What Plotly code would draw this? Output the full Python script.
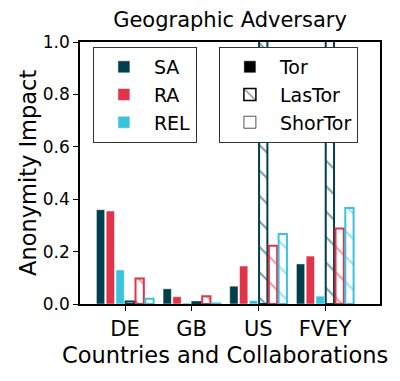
import plotly.graph_objects as go

# values
countries = ["DE", "GB", "US", "FVEY"]
metrics = ["SA", "RA", "REL"]
tor = {
    "SA": [0.36, 0.058, 0.068, 0.153],
    "RA": [0.355, 0.028, 0.145, 0.183],
    "REL": [0.13, 0.004, 0.013, 0.03],
}
lastor = {
    "SA": [0.01, 0.007, 1.5, 1.5],
    "RA": [0.097, 0.03, 0.222, 0.288],
    "REL": [0.02, 0.002, 0.267, 0.366],
}
colors = {"SA": "#023f4c", "RA": "#e0344a", "REL": "#3bc2dd"}

FAMILY = "DejaVu Sans"
def font(size):
    return dict(family=FAMILY, size=size, color="black")

x = list(range(len(countries)))

fig = go.Figure()

# Tor bars (solid) - also used for the metric legend
for i, m in enumerate(metrics):
    fig.add_trace(go.Bar(
        x=x, y=tor[m], name=m, legend="legend",
        offsetgroup=f"t{i}",
        marker=dict(color=colors[m], line=dict(color="white", width=0.5)),
    ))

# LasTor bars (hatched, white fill)
for i, m in enumerate(metrics):
    fig.add_trace(go.Bar(
        x=x, y=lastor[m], name=m, showlegend=False,
        offsetgroup=f"l{i}",
        marker=dict(
            color="white",
            line=dict(color=colors[m], width=2),
            pattern=dict(shape="\\", fgcolor=colors[m], bgcolor="white",
                         size=18, solidity=0.12),
        ),
    ))

# style legend entries
fig.add_trace(go.Bar(x=[None], y=[None], name="Tor", legend="legend2",
                     offsetgroup="t0", marker=dict(color="black")))
fig.add_trace(go.Bar(x=[None], y=[None], name="LasTor", legend="legend2",
                     offsetgroup="t0",
                     marker=dict(color="white", line=dict(color="black", width=1.5),
                                 pattern=dict(shape="\\", fgcolor="black",
                                              bgcolor="white", size=12,
                                              solidity=0.15))))
fig.add_trace(go.Bar(x=[None], y=[None], name="ShorTor", legend="legend2",
                     offsetgroup="t0",
                     marker=dict(color="white", line=dict(color="#555555", width=1))))

legend_style = dict(
    font=font(19), bgcolor="white", bordercolor="#333333", borderwidth=1,
    yanchor="top", xanchor="left", y=0.981, itemwidth=50,
    tracegroupgap=0,
)

fig.update_layout(
    width=400, height=381,
    margin=dict(l=72, r=28, t=34, b=85),
    paper_bgcolor="white", plot_bgcolor="white",
    font=font(19),
    barmode="group", bargap=0.12, bargroupgap=0.15,
    title=dict(text="Geographic Adversary", x=0.5, xref="paper",
               xanchor="center", y=1 - 12 / 381, yanchor="middle",
               font=font(21)),
    legend=dict(x=0.043, **legend_style),
    legend2=dict(x=0.463, **legend_style),
    xaxis=dict(
        range=[-0.675, 3.825], tickvals=x, ticktext=countries,
        tickfont=font(21), automargin=False,
        showline=True, linecolor="black", linewidth=1.5, mirror=True,
        ticks="outside", ticklen=5, tickcolor="black", showgrid=False,
        zeroline=False,
    ),
    yaxis=dict(
        range=[0, 1], dtick=0.2, tickformat=".1f",
        tickfont=font(17), automargin=False,
        showline=True, linecolor="black", linewidth=1.5, mirror=True,
        ticks="outside", ticklen=5, tickcolor="black", showgrid=False,
        zeroline=False,
    ),
    annotations=[
        dict(text="Countries and Collaborations", xref="paper", yref="paper",
             x=0.5 - 5 / 300, y=-51 / 262, xanchor="center", yanchor="middle",
             showarrow=False, font=font(22.5)),
        dict(text="Anonymity Impact", xref="paper", yref="paper",
             x=-52 / 300, y=0.5, xanchor="center", yanchor="middle",
             textangle=-90, showarrow=False, font=font(22.5)),
    ],
)

fig.write_html("out.html")
